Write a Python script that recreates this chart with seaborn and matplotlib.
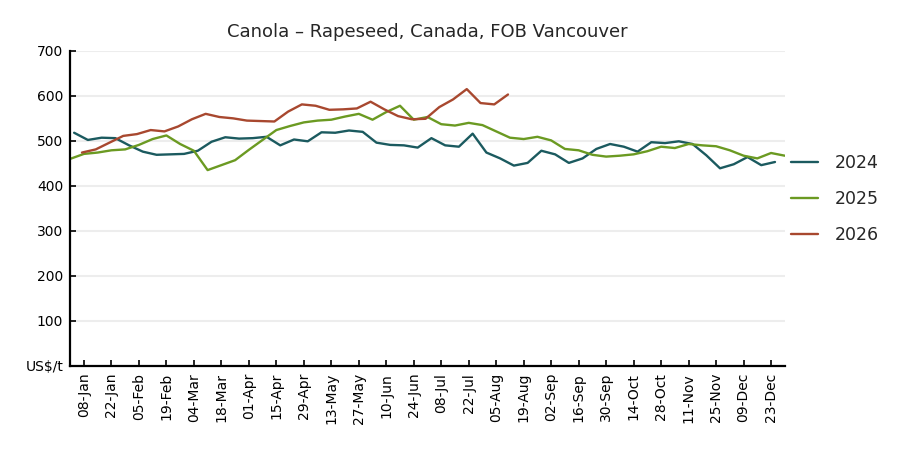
import numpy as np
import pandas as pd
import matplotlib
matplotlib.use("Agg")
import matplotlib.pyplot as plt
import matplotlib.dates as mdates
import seaborn as sns

# weekly FOB Vancouver canola prices, US$/t
years = ["2024", "2025", "2026"]
first_obs = {"2024": "01-03", "2025": "01-01", "2026": "01-07"}  # month-day of first weekly quote

price_2024 = [518, 502, 507, 506, 490, 476, 469, 470, 471, 478, 498, 508, 505,
              506, 509, 490, 503, 499, 519, 518, 523, 520, 496, 491, 490, 485,
              506, 490, 487, 516, 474, 461, 445, 451, 478, 470, 451, 461, 482,
              493, 487, 476, 497, 495, 499, 493, 468, 439, 448, 464, 446, 453]
price_2025 = [460, 471, 474, 479, 481, 491, 504, 512, 493, 478, 435, 446, 457,
              480, 502, 524, 533, 541, 545, 547, 554, 560, 547, 564, 578, 547,
              553, 537, 534, 540, 535, 521, 507, 504, 509, 501, 482, 479, 469,
              465, 467, 470, 477, 487, 484, 493, 490, 488, 479, 467, 461, 473, 467]
price_2026 = [474, 481, 496, 511, 515, 524, 521, 532, 548, 560, 553, 550, 545,
              544, 543, 565, 581, 578, 569, 570, 572, 587, 570, 555, 548, 549,
              575, 592, 615, 584, 581, 603]

colors = {"2024": "#1b5a5f", "2025": "#6b9a22", "2026": "#a8482f"}

series = {"2024": price_2024, "2025": price_2025, "2026": price_2026}
frames = []
for y in years:
    vals = series[y]
    # put every year on a common (leap-year) calendar so the seasons line up
    dates = pd.date_range(f"2024-{first_obs[y]}", periods=len(vals), freq="7D")
    frames.append(pd.DataFrame({"date": dates, "price": vals, "year": y}))
df = pd.concat(frames, ignore_index=True)

sns.set_style("white")
plt.rcParams["font.family"] = ["DejaVu Sans"]

fig = plt.figure(figsize=(9, 4.5), dpi=100)
ax = fig.add_axes([0.078, 0.187, 0.794, 0.70])

sns.lineplot(data=df, x="date", y="price", hue="year", hue_order=years,
             palette=colors, linewidth=1.7, ax=ax)

ax.set_xlim(pd.Timestamp("2024-01-01"), pd.Timestamp("2024-12-30"))
ax.set_ylim(0, 700)
ax.set_yticks(range(0, 701, 100))
ax.set_yticklabels(["US$/t"] + [str(v) for v in range(100, 701, 100)], fontsize=10)
ax.yaxis.grid(True, color="#ededed", linewidth=1.5)
ax.set_axisbelow(True)

xt = pd.date_range("2024-01-08", "2024-12-23", freq="14D")
ax.set_xticks(xt)
ax.xaxis.set_major_formatter(mdates.DateFormatter("%d-%b"))
plt.setp(ax.get_xticklabels(), rotation=90, fontsize=10)

ax.tick_params(axis="both", direction="in", length=4, width=1.2, colors="black",
               bottom=True, left=True, pad=5)
ax.set_xlabel("")
ax.set_ylabel("")

for s in ["top", "right"]:
    ax.spines[s].set_visible(False)
for s in ["left", "bottom"]:
    ax.spines[s].set_color("black")
    ax.spines[s].set_linewidth(1.6)

ax.set_title("Canola \u2013 Rapeseed, Canada, FOB Vancouver", fontsize=13, pad=10)

handles, labels = ax.get_legend_handles_labels()
ax.legend(handles, labels, loc="upper left", bbox_to_anchor=(0.862, 0.692),
          bbox_transform=fig.transFigure, frameon=False, fontsize=12.5,
          handlelength=1.55, handletextpad=0.95, labelspacing=1.02)

fig.savefig("out.png", dpi=100)
